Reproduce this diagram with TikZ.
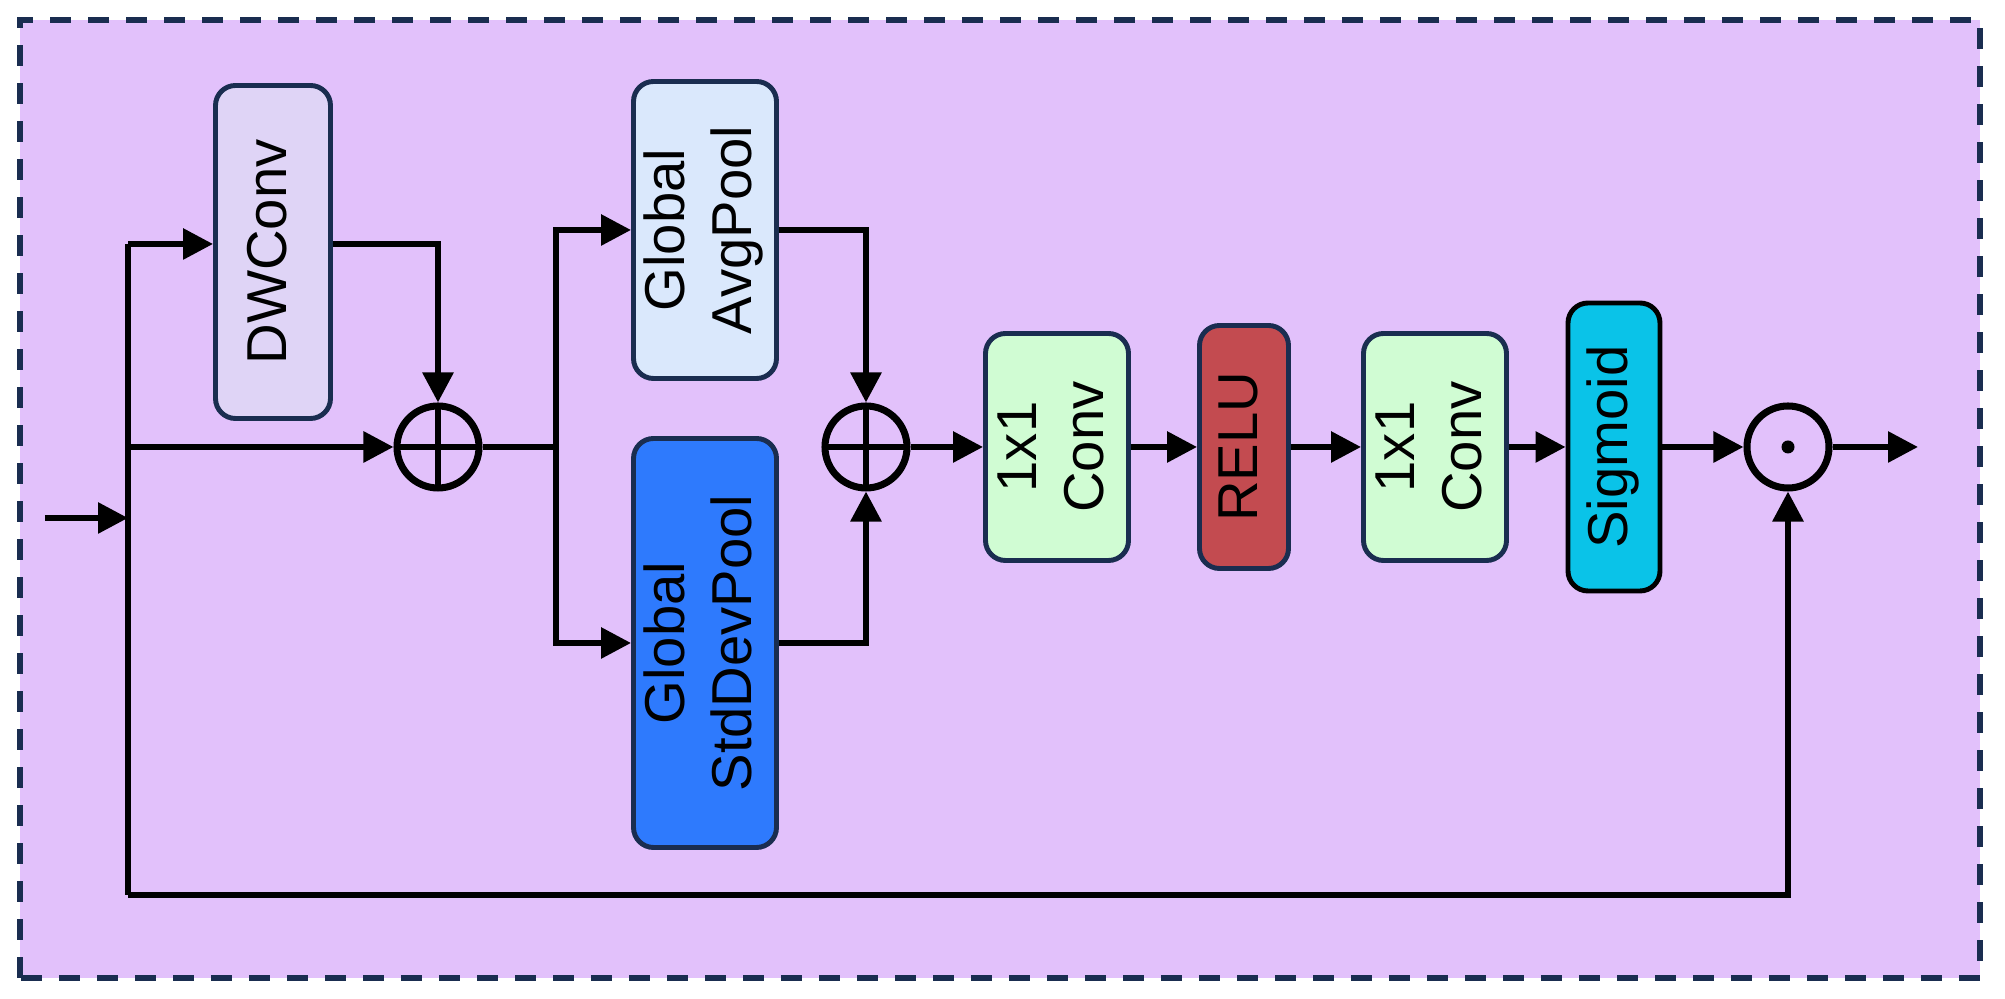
\documentclass[tikz,border=0pt]{standalone}
\usepackage{fontspec}
\setmainfont{Liberation Sans}
\usepackage{graphicx}
\usepackage{xcolor}
\usetikzlibrary{arrows.meta}
\definecolor{bgpurple}{HTML}{E2C1FB}
\definecolor{navy}{HTML}{1A2D50}
\definecolor{dwfill}{HTML}{DFD4F6}
\definecolor{avgfill}{HTML}{DAE8FC}
\definecolor{stdfill}{HTML}{2E7AFD}
\definecolor{convfill}{HTML}{D0FCD3}
\definecolor{relufill}{HTML}{C34B50}
\definecolor{sigfill}{HTML}{0AC3E8}
\newcommand{\vlabel}[1]{\rotatebox{90}{\begin{tabular}{@{}c@{}}#1\end{tabular}}}
\tikzset{
  block/.style={rectangle,rounded corners=0.2cm,draw=navy,line width=1.4pt,align=center,inner sep=0pt,font=\fontsize{16}{19}\selectfont},
  opnode/.style={circle,draw=black,line width=2pt,minimum size=0.82cm,inner sep=0pt},
  plusop/.style={opnode,path picture={\draw[line width=1.6pt] (path picture bounding box.north) -- (path picture bounding box.south) (path picture bounding box.west) -- (path picture bounding box.east);}},
  dotop/.style={opnode,path picture={\fill (path picture bounding box.center) circle (0.065);}},
  wire/.style={line width=1.7pt,draw=black},
  arrow/.style={wire,-{Triangle[length=0.3cm,width=0.3cm]}}
}

\begin{document}
\begin{tikzpicture}
  \useasboundingbox (0,0) rectangle (20.05,9.99);
  \draw[fill=bgpurple,draw=navy,line width=1.6pt,dash pattern=on 0.21cm off 0.17cm] (0.20,0.21) rectangle (19.80,9.79);

  \node[block,fill=dwfill,minimum width=1.15cm,minimum height=3.33cm] (dwconv) at (2.73,7.47) {\vlabel{DWConv}};
  \node[block,fill=avgfill,minimum width=1.43cm,minimum height=2.97cm] (avgpool) at (7.05,7.69) {\vlabel{Global\\AvgPool}};
  \node[block,fill=stdfill,minimum width=1.43cm,minimum height=4.09cm] (stdpool) at (7.05,3.56) {\vlabel{Global\\StdDevPool}};
  \node[block,fill=convfill,minimum width=1.43cm,minimum height=2.27cm] (conv1) at (10.57,5.52) {\vlabel{1x1\\Conv}};
  \node[block,fill=relufill,minimum width=0.89cm,minimum height=2.43cm] (relu) at (12.44,5.52) {\vlabel{RELU}};
  \node[block,fill=convfill,minimum width=1.43cm,minimum height=2.27cm] (conv2) at (14.35,5.52) {\vlabel{1x1\\Conv}};
  \node[block,fill=sigfill,draw=black,minimum width=0.92cm,minimum height=2.88cm] (sigmoid) at (16.14,5.52) {\vlabel{Sigmoid}};

  \node[plusop] (plus1) at (4.38,5.52) {};
  \node[plusop] (plus2) at (8.66,5.52) {};
  \node[dotop] (mult) at (17.88,5.52) {};

  \coordinate (in) at (0.45,4.81);
  \coordinate (trunk) at (1.28,4.81);
  \coordinate (ttop) at (1.28,7.55);
  \coordinate (tmid) at (1.28,5.52);
  \coordinate (tbot) at (1.28,1.04);
  \coordinate (fork) at (5.56,5.52);
  \coordinate (out) at (19.18,5.52);

  \draw[arrow] (in) -- (trunk);
  \draw[wire] (ttop) -- (tbot);
  \draw[arrow] (ttop) -- (ttop -| dwconv.west);
  \draw[arrow] (ttop -| dwconv.east) -| (plus1.north);
  \draw[arrow] (tmid) -- (plus1.west);
  \draw[wire] (plus1.east) -- (fork);
  \draw[arrow] (fork) |- (avgpool.west);
  \draw[arrow] (fork) |- (stdpool.west);
  \draw[arrow] (avgpool.east) -| (plus2.north);
  \draw[arrow] (stdpool.east) -| (plus2.south);
  \draw[arrow] (plus2) -- (conv1);
  \draw[arrow] (conv1) -- (relu);
  \draw[arrow] (relu) -- (conv2);
  \draw[arrow] (conv2) -- (sigmoid);
  \draw[arrow] (sigmoid) -- (mult);
  \draw[arrow] (mult) -- (out);
  \draw[arrow] (tbot) -| (mult.south);
\end{tikzpicture}
\end{document}
